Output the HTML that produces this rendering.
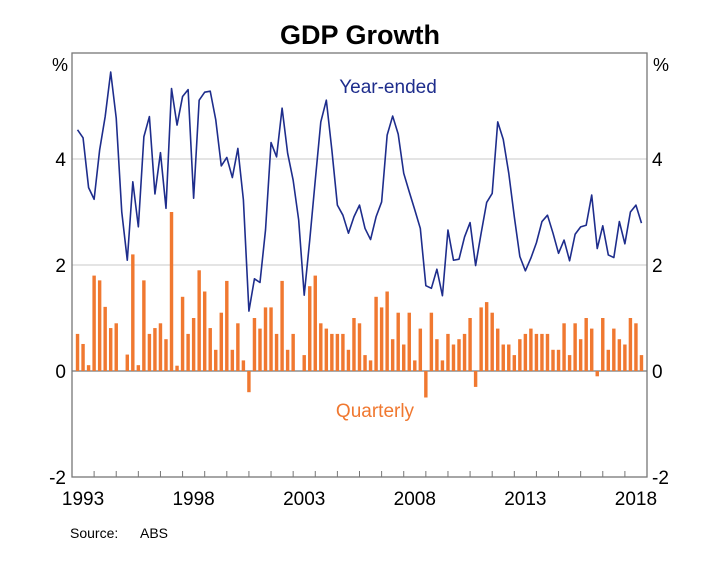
<!DOCTYPE html>
<html><head><meta charset="utf-8"><style>
body{margin:0;background:#fff;}
svg{display:block;font-family:"Liberation Sans",Arial,sans-serif;}
</style></head><body>
<svg id="chart" width="727" height="563" viewBox="0 0 727 563" xmlns="http://www.w3.org/2000/svg">
<text x="360" y="44" text-anchor="middle" font-size="27" font-weight="bold" fill="#000">GDP Growth</text>
<g id="grid"></g>
<g id="bars"></g>
<path id="line" fill="none" stroke="#1e2d8c" stroke-width="1.6" stroke-linejoin="round"/>
<g id="axes"></g>
<text x="388" y="93" text-anchor="middle" font-size="19" fill="#1e2d8c">Year-ended</text>
<text x="375" y="417" text-anchor="middle" font-size="19" fill="#f07830">Quarterly</text>
<text x="60" y="71" text-anchor="middle" font-size="18">%</text>
<text x="661" y="71" text-anchor="middle" font-size="18">%</text>
<text x="70" y="538" font-size="14">Source:</text>
<text x="140" y="538" font-size="14">ABS</text>
</svg>
<script>
const startYear = 1993;
const quarterly = [0.7,0.51,0.11,1.8,1.71,1.21,0.81,0.9,0.0,0.31,2.2,0.11,1.71,0.7,0.81,0.9,0.6,3.0,0.1,1.4,0.7,1.0,1.9,1.5,0.81,0.4,1.1,1.7,0.4,0.9,0.2,-0.4,1.0,0.8,1.2,1.2,0.7,1.7,0.4,0.7,0.0,0.3,1.6,1.8,0.9,0.8,0.7,0.7,0.7,0.4,1.0,0.9,
0.3,0.2,1.4,1.2,1.5,0.6,1.1,0.5,1.1,0.2,0.8,-0.5,1.1,0.6,0.2,0.7,0.5,0.6,0.7,1.0,-0.3,1.2,1.3,1.1,0.8,0.5,0.5,0.3,0.6,0.7,0.8,0.7,0.7,0.7,0.4,0.4,0.9,0.3,0.9,0.6,1.0,0.8,-0.1,1.0,0.4,0.8,0.6,0.5,1.0,0.9,0.3];
const yearEnded = [4.55,4.4,3.46,3.24,4.17,4.8,5.64,4.77,3.0,2.09,3.57,2.72,4.42,4.8,3.34,4.12,3.07,5.33,4.64,5.18,5.31,3.26,5.11,5.26,5.28,4.74,3.87,4.03,3.65,4.2,3.23,1.13,1.74,1.67,2.66,4.31,4.04,4.96,4.11,3.6,2.85,1.43,2.47,3.6,4.7,5.11,4.17,3.13,2.94,2.6,2.91,3.13,
2.69,2.48,2.91,3.19,4.45,4.81,4.47,3.73,3.38,3.04,2.69,1.61,1.56,1.92,1.42,2.66,2.09,2.11,2.53,2.8,1.99,2.6,3.18,3.35,4.7,4.37,3.73,2.91,2.16,1.89,2.13,2.42,2.82,2.94,2.6,2.22,2.47,2.08,2.58,2.72,2.75,3.32,2.31,2.74,2.19,2.14,2.82,2.4,3.0,3.13,2.79];
const yTicks = [-2,0,2,4];
const xLabels = [1993,1998,2003,2008,2013,2018];

const L=72,R=647,T=53,B=477, X0=1993, X1=2019, Y0=-2, Y1=6;
const xs = d => L + (d - X0) / (X1 - X0) * (R - L);
const ys = v => B - (v - Y0) / (Y1 - Y0) * (B - T);
const NS='http://www.w3.org/2000/svg';
function mk(tag, attrs, parent){const e=document.createElementNS(NS,tag);for(const k in attrs)e.setAttribute(k,attrs[k]);parent.appendChild(e);return e;}
const grid=document.getElementById('grid'), bars=document.getElementById('bars'), axes=document.getElementById('axes');
yTicks.forEach(v=>{
  if(v===Y0) return;
  const g=mk('line',{x1:L,x2:R,y1:ys(v),y2:ys(v),stroke:v===0?'#777':'#c8c8c8','stroke-width':v===0?1.2:1},grid);
  
  
});
yTicks.forEach(v=>{
  const a=mk('text',{x:L-6,y:ys(v)+7,'text-anchor':'end','font-size':19},axes);a.textContent=v;
  
  
  const b=mk('text',{x:R+5,y:ys(v)+7,'text-anchor':'start','font-size':19},axes);b.textContent=v;
  
  
});
const bw = (xs(1993.25)-xs(1993))*0.62;
quarterly.forEach((v,i)=>{
  const d = startYear + (i+1)*0.25;
  const x = xs(d), y0=ys(0), y1=ys(v);
  const r=mk('rect',{x:x-bw/2,y:Math.min(y0,y1),width:bw,height:Math.abs(y1-y0),fill:'#f07830'},bars);
  
  
});
document.getElementById('line').setAttribute('d', yearEnded.map((v,i)=>(i?'L':'M')+xs(startYear+(i+1)*0.25).toFixed(2)+' '+ys(v).toFixed(2)).join(''));
mk('rect',{x:L,y:T,width:R-L,height:B-T,fill:'none',stroke:'#777','stroke-width':1.3},axes);
for(let y=X0+1;y<X1;y++){
  const t=mk('line',{x1:xs(y),x2:xs(y),y1:B,y2:B-6,stroke:'#777','stroke-width':1},axes);
  
  
}
xLabels.forEach(yv=>{
  const t=mk('text',{x:xs(yv+0.5),y:B+28,'text-anchor':'middle','font-size':19},axes);t.textContent=yv;
  
  
});
</script>
</body></html>
